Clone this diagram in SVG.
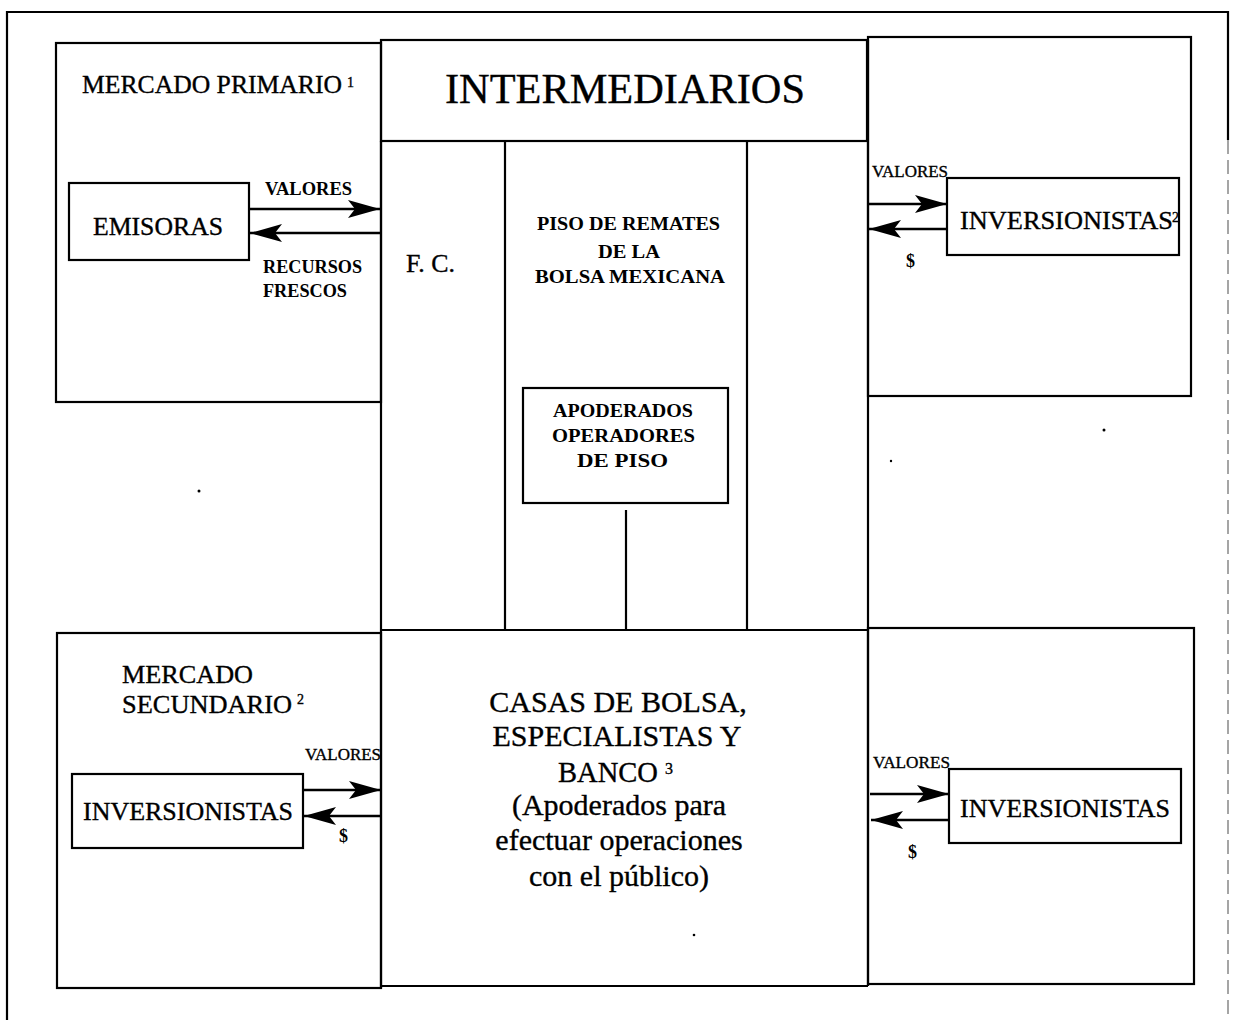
<svg xmlns="http://www.w3.org/2000/svg" width="1234" height="1020" viewBox="0 0 1234 1020">
<style>
  .bx { fill: none; stroke: #000; stroke-width: 2.2; }
  .ln { fill: none; stroke: #000; stroke-width: 2.2; }
  .ar { fill: none; stroke: #000; stroke-width: 2.5; marker-end: url(#ah); }
  .t { font-family: "Liberation Serif", "Times New Roman", serif; fill: #000; stroke: #000; stroke-width: 0.35; }
  .big { font-size: 25px; }
  .sm { font-size: 18px; font-weight: bold; stroke-width: 0; }
  .sr { font-size: 16px; }
  .sup { font-size: 14px; }
  .dot { fill: #000; }
</style>
<defs>
  <marker id="ah" markerUnits="userSpaceOnUse" markerWidth="34" markerHeight="22" refX="32" refY="11" orient="auto">
    <path d="M0,2 L32,11 L0,20 L7,11 Z" fill="#000"/>
  </marker>
</defs>
<rect width="1234" height="1020" fill="#fff"/>

<!-- outer frame -->
<g id="frame">
  <path class="ln" d="M7,1020 V12 H1228 V140"/>
  <path d="M1228,140 V1020" fill="none" stroke="#888" stroke-width="1.5" stroke-dasharray="14 6"/>
</g>

<g id="mercado-primario">
  <rect class="bx" x="56" y="43" width="325" height="359"/>
  <text class="t big" x="82" y="93" textLength="260" lengthAdjust="spacingAndGlyphs">MERCADO PRIMARIO</text>
  <text class="t sup" x="347" y="87">1</text>
</g>

<g id="intermediarios">
  <rect class="bx" x="381" y="40" width="486" height="101"/>
  <text class="t" x="445" y="103" font-size="42" textLength="360" lengthAdjust="spacingAndGlyphs">INTERMEDIARIOS</text>
</g>

<g id="fc">
  <path class="ln" d="M381,141 V630"/>
  <text class="t big" x="406" y="272" textLength="49" lengthAdjust="spacingAndGlyphs">F. C.</text>
</g>

<g id="piso-remates">
  <path class="ln" d="M505,141 V630 M747,141 V630 M381,630 H868"/>
  <text class="t sm" x="537" y="230" textLength="183" lengthAdjust="spacingAndGlyphs">PISO DE REMATES</text>
  <text class="t sm" x="598" y="258" textLength="62" lengthAdjust="spacingAndGlyphs">DE LA</text>
  <text class="t sm" x="535" y="283" textLength="190" lengthAdjust="spacingAndGlyphs">BOLSA MEXICANA</text>
</g>

<g id="apoderados">
  <rect class="bx" x="523" y="388" width="205" height="115"/>
  <text class="t sm" x="553" y="417" textLength="140" lengthAdjust="spacingAndGlyphs">APODERADOS</text>
  <text class="t sm" x="552" y="442" textLength="143" lengthAdjust="spacingAndGlyphs">OPERADORES</text>
  <text class="t sm" x="577" y="467" textLength="91" lengthAdjust="spacingAndGlyphs">DE PISO</text>
</g>

<g id="emisoras">
  <rect class="bx" x="69" y="183" width="180" height="77"/>
  <text class="t big" x="93" y="235" textLength="130" lengthAdjust="spacingAndGlyphs">EMISORAS</text>
</g>

<g id="mercado-primario-inversion">
  <rect class="bx" x="868" y="37" width="323" height="359"/>
</g>

<g id="inversionistas-1">
  <rect class="bx" x="947" y="178" width="232" height="77"/>
  <text class="t big" x="960" y="229" textLength="213" lengthAdjust="spacingAndGlyphs">INVERSIONISTAS</text>
  <text class="t sup" x="1172" y="222">2</text>
</g>

<g id="mercado-secundario">
  <rect class="bx" x="57" y="633" width="324" height="355"/>
  <text class="t big" x="122" y="683" textLength="131" lengthAdjust="spacingAndGlyphs">MERCADO</text>
  <text class="t big" x="122" y="713" textLength="170" lengthAdjust="spacingAndGlyphs">SECUNDARIO</text>
  <text class="t sup" x="297" y="704">2</text>
</g>

<g id="inversionistas-2">
  <rect class="bx" x="72" y="774" width="231" height="74"/>
  <text class="t big" x="83" y="820" textLength="210" lengthAdjust="spacingAndGlyphs">INVERSIONISTAS</text>
</g>

<g id="casas-de-bolsa">
  <path class="ln" d="M381,630 V988 M381,986 H868 M868,40 V986"/>
  <text class="t" font-size="30" text-anchor="middle" x="618" y="712">CASAS DE BOLSA,</text>
  <text class="t" font-size="30" text-anchor="middle" x="617" y="746">ESPECIALISTAS Y</text>
  <text class="t" font-size="30" x="558" y="782" textLength="100" lengthAdjust="spacingAndGlyphs">BANCO</text>
  <text class="t" font-size="16" x="665" y="774">3</text>
  <text class="t" font-size="30" text-anchor="middle" x="619" y="815">(Apoderados para</text>
  <text class="t" font-size="30" text-anchor="middle" x="619" y="850">efectuar operaciones</text>
  <text class="t" font-size="30" text-anchor="middle" x="619" y="886">con el público)</text>
</g>

<g id="mercado-secundario-inversion">
  <rect class="bx" x="868" y="628" width="326" height="356"/>
</g>

<g id="inversionistas-3">
  <rect class="bx" x="949" y="769" width="232" height="74"/>
  <text class="t big" x="960" y="817" textLength="210" lengthAdjust="spacingAndGlyphs">INVERSIONISTAS</text>
</g>

<g id="connectors">
  <path class="ar" d="M249,209 H380"/>
  <path class="ar" d="M380,233 H250"/>
  <path class="ln" d="M626,510 V630"/>
  <path class="ar" d="M868,204 H947"/>
  <path class="ar" d="M947,229 H869"/>
  <path class="ar" d="M303,790 H381"/>
  <path class="ar" d="M381,816 H304"/>
  <path class="ar" d="M870,794 H949"/>
  <path class="ar" d="M949,820 H871"/>
</g>

<g id="labels">
  <text class="t sm" x="265" y="195" textLength="87" lengthAdjust="spacingAndGlyphs">VALORES</text>
  <text class="t sm" x="263" y="273" textLength="99" lengthAdjust="spacingAndGlyphs">RECURSOS</text>
  <text class="t sm" x="263" y="297" textLength="84" lengthAdjust="spacingAndGlyphs">FRESCOS</text>
  <text class="t sr" x="872" y="177" textLength="76" lengthAdjust="spacingAndGlyphs">VALORES</text>
  <text class="t sm" x="906" y="267" font-size="16">$</text>
  <text class="t sr" x="305" y="760" textLength="76" lengthAdjust="spacingAndGlyphs">VALORES</text>
  <text class="t sm" x="339" y="842" font-size="16">$</text>
  <text class="t sr" x="873" y="768" textLength="77" lengthAdjust="spacingAndGlyphs">VALORES</text>
  <text class="t sm" x="908" y="858" font-size="16">$</text>
</g>

<g id="specks">
  <circle class="dot" cx="199" cy="491" r="1.5"/>
  <circle class="dot" cx="1104" cy="430" r="1.5"/>
  <circle class="dot" cx="891" cy="461" r="1.2"/>
  <circle class="dot" cx="694" cy="935" r="1.3"/>
</g>
</svg>
